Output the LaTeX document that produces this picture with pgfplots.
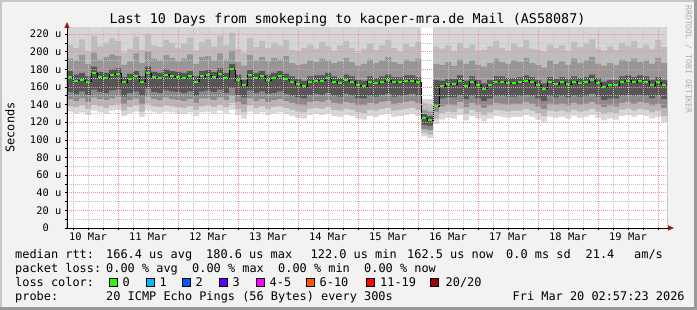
\documentclass[border=0pt]{standalone}
\usepackage{pgfplots}
\pgfplotsset{compat=1.18}
\usepackage{pgfplotstable}
\usepackage{fontspec}
\setmainfont{DejaVu Sans Mono}
\usetikzlibrary{arrows.meta}
\definecolor{bgc}{HTML}{F2F2F2}
\definecolor{s1}{HTML}{D5D5D5}
\definecolor{s2}{HTML}{BDBDBD}
\definecolor{s3}{HTML}{969696}
\definecolor{s4}{HTML}{565656}
\definecolor{s5}{HTML}{8A8A8A}
\definecolor{s6}{HTML}{B6B6B6}
\definecolor{s7}{HTML}{D8D8D8}
\definecolor{arrowred}{HTML}{9A1A1A}
\definecolor{c0}{HTML}{26FF00}
\definecolor{c1}{HTML}{00B8FF}
\definecolor{c2}{HTML}{0059FF}
\definecolor{c3}{HTML}{5E00FF}
\definecolor{c45}{HTML}{FF00FF}
\definecolor{c610}{HTML}{FF5500}
\definecolor{c1119}{HTML}{FF0000}
\definecolor{c20}{HTML}{A10000}
\definecolor{mgrid}{HTML}{F09090}
\definecolor{ngrid}{HTML}{C4C4C4}

\pgfplotstableread{
med lo l1 l2 l3 u3 u2 u1
171 132 138 146 154 178 192 208
167 130 137 144 152 174 190 204
168 131 139 147 155 176 196 214
166 128 135 143 151 172 186 200
176 133 140 148 157 183 199 218
171 131 138 146 154 177 191 206
170 129 136 145 153 176 194 210
174 133 139 147 156 180 197 215
175 134 141 149 157 181 195 212
165 127 133 141 149 171 185 199
169 130 137 145 153 175 189 203
172 132 139 147 155 178 198 217
166 126 132 141 150 172 187 202
176 133 141 149 158 183 200 220
171 131 138 146 154 177 192 207
170 130 137 145 153 176 190 205
174 132 139 148 156 180 196 213
172 131 138 146 155 178 193 210
171 130 137 145 154 177 189 204
170 129 136 144 153 176 192 209
172 131 138 146 155 178 197 216
166 127 134 142 150 172 186 201
172 131 138 147 155 178 194 211
173 132 139 147 156 179 195 214
171 130 137 145 154 177 190 206
175 133 140 148 157 181 198 218
170 130 137 145 153 176 191 207
180 134 142 150 159 186 201 221
168 128 135 143 151 174 188 203
162 124 131 140 148 168 184 199
173 132 139 147 156 179 196 215
170 129 136 144 153 176 190 205
172 131 138 146 155 178 194 212
168 128 135 143 152 174 189 204
170 130 137 145 153 176 193 210
172 131 138 146 155 178 191 207
169 129 136 144 152 175 195 213
166 127 134 142 150 172 187 202
163 125 132 140 148 169 185 200
161 124 131 139 147 167 186 204
166 128 135 143 151 172 190 208
167 129 136 144 152 173 188 203
167 128 135 143 151 173 192 211
170 130 137 145 153 176 190 206
166 127 134 142 150 172 187 201
164 126 133 141 149 170 189 207
168 128 135 143 152 174 193 212
166 127 134 142 150 172 188 204
162 124 131 139 147 168 184 199
161 123 130 139 147 167 186 203
166 127 134 142 150 172 191 209
164 126 133 141 149 170 187 202
166 128 135 143 151 172 190 207
168 129 136 144 152 174 194 213
165 126 133 141 149 171 188 204
165 127 134 142 150 171 186 200
167 128 135 143 151 173 191 209
167 129 136 144 152 173 189 205
165 127 134 142 150 171 192 211
125 104 108 112 117 129 134 142
122 102 106 111 116 127 132 139
138 118 124 132 140 168 186 206
161 123 130 138 147 167 185 203
163 125 132 140 148 169 188 207
163 124 131 139 148 169 184 200
167 128 135 143 151 173 191 210
161 122 129 137 146 167 186 204
166 127 134 142 150 172 190 208
162 124 131 139 147 168 185 201
158 121 128 136 144 164 183 202
162 124 131 139 147 168 187 206
166 127 134 142 150 172 192 212
166 126 133 141 150 172 188 204
164 125 132 140 149 170 186 201
164 126 133 141 149 170 190 209
165 126 133 141 150 171 188 205
167 128 135 143 151 173 193 213
165 126 133 141 150 171 187 203
162 123 130 138 147 168 185 202
158 120 127 135 144 164 182 200
165 126 133 141 150 171 190 208
163 125 132 140 148 169 186 204
165 126 133 141 150 171 189 207
163 124 131 139 148 169 185 201
166 127 134 142 150 172 192 211
164 125 132 140 149 170 187 205
165 126 133 141 150 171 190 209
168 128 135 143 152 174 194 214
164 125 132 140 149 170 186 203
160 122 129 137 145 166 184 201
162 124 131 139 147 168 187 206
162 123 130 138 147 168 185 202
166 127 134 142 150 172 191 210
167 128 135 143 151 173 189 206
165 126 133 141 150 171 192 212
167 128 135 143 151 173 188 204
166 127 134 142 150 172 190 208
162 124 131 139 147 168 186 203
165 126 133 141 150 171 193 213
162.5 120 127 136 146 168 187 205
162.5 120 127 136 146 168 187 205
}\smoke

\pgfplotstableread{
x hi
0 230
5.9 146
6.1 230
10 230
}\tops

\tikzset{lg/.style={anchor=base west, inner sep=0pt, font=\fontsize{11.9}{14}\selectfont}}

\begin{document}
\begin{tikzpicture}
\useasboundingbox (0,0) rectangle (697pt,310pt);
\fill[bgc] (0,0) rectangle (697pt,310pt);
\fill[black!22] (0,308pt) rectangle (697pt,310pt);
\fill[black!22] (0,0) rectangle (2pt,310pt);
\fill[black!40] (694pt,0) rectangle (697pt,310pt);
\fill[black!40] (0,0) rectangle (697pt,3pt);

\begin{axis}[
  at={(67pt,82pt)}, anchor=south west, scale only axis,
  width=600pt, height=200pt,
  xmin=0, xmax=10, ymin=0, ymax=226.8,
  axis on top,
  axis background/.style={fill=white},
  axis x line*=bottom, axis y line*=left,
  x axis line style={line width=0.8pt, -{Triangle[length=6pt,width=5pt,color=arrowred]}, shorten >=-7pt},
  y axis line style={line width=0.8pt, -{Triangle[length=6pt,width=5pt,color=arrowred]}, shorten >=-6pt},
  /pgf/number format/assume math mode=true,
  xtick={0.85,1.85,2.85,3.85,4.85,5.85,6.85,7.85,8.85,9.85},
  xticklabels={},
  minor xtick={0.1,0.35,0.6,1.1,1.35,1.6,2.1,2.35,2.6,3.1,3.35,3.6,4.1,4.35,4.6,5.1,5.35,5.6,6.1,6.35,6.6,7.1,7.35,7.6,8.1,8.35,8.6,9.1,9.35,9.6},
  extra x ticks={0.35,1.35,2.35,3.35,4.35,5.35,6.35,7.35,8.35,9.35},
  extra x tick labels={10 Mar,11 Mar,12 Mar,13 Mar,14 Mar,15 Mar,16 Mar,17 Mar,18 Mar,19 Mar},
  extra x tick style={grid=none, major tick length=0pt},
  ytick={0,20,40,60,80,100,120,140,160,180,200,220},
  yticklabels={0\phantom{uu},20 u,40 u,60 u,80 u,100 u,120 u,140 u,160 u,180 u,200 u,220 u},
  minor ytick={10,30,50,70,90,110,130,150,170,190,210},
  grid=both,
  major grid style={draw=mgrid, line width=0.6pt, dash pattern=on 1pt off 1pt},
  minor grid style={draw=ngrid, line width=0.6pt, dash pattern=on 1pt off 1pt},
  tick align=outside,
  major tick length=2.5pt, minor tick length=2.5pt,
  tick style={black, line width=0.5pt},
  xticklabel style={font=\fontsize{10.4}{12}\selectfont, anchor=north, inner sep=0pt, yshift=-5pt},
  yticklabel style={font=\fontsize{10.4}{12}\selectfont, anchor=east, inner sep=0pt, xshift=-3pt},
]
\addplot[const plot, draw=none, fill=s1] table[x=x, y=hi] {\tops} \closedcycle;
\addplot[const plot, draw=none, fill=s2] table[x expr=\coordindex/10, y=u1] {\smoke} \closedcycle;
\addplot[const plot, draw=none, fill=s3] table[x expr=\coordindex/10, y=u2] {\smoke} \closedcycle;
\addplot[const plot, draw=none, fill=s4] table[x expr=\coordindex/10, y=u3] {\smoke} \closedcycle;
\addplot[const plot, draw=none, fill=s5] table[x expr=\coordindex/10, y=l3] {\smoke} \closedcycle;
\addplot[const plot, draw=none, fill=s6] table[x expr=\coordindex/10, y=l2] {\smoke} \closedcycle;
\addplot[const plot, draw=none, fill=s7] table[x expr=\coordindex/10, y=l1] {\smoke} \closedcycle;
\addplot[const plot, draw=none, fill=white] table[x expr=\coordindex/10, y=lo] {\smoke} \closedcycle;
\addplot[const plot, black, line width=0.5pt] table[x expr=\coordindex/10, y=med] {\smoke};
\addplot[only marks, mark=-, mark size=2pt, mark options={line width=2pt, draw=c0}, skip coords between index={100}{101}] table[x expr=\coordindex/10+0.05, y=med] {\smoke};
\end{axis}

\node[anchor=base, inner sep=0pt, font=\fontsize{13.4}{15}\selectfont] at (347.5pt,286.5pt) {Last 10 Days from smokeping to kacper-mra.de Mail (AS58087)};
\node[rotate=90, inner sep=0pt, font=\fontsize{11.9}{14}\selectfont] at (10pt,182.5pt) {Seconds};
\node[rotate=-90, anchor=west, inner sep=0pt, text=black!32, font=\fontsize{8.2}{10}\selectfont] at (688.5pt,305pt) {RRDTOOL / TOBI OETIKER};

\node[lg] at (15pt,51.7pt) {median rtt:};
\node[lg] at (106pt,51.7pt) {166.4 us avg};
\node[lg] at (206pt,51.7pt) {180.6 us max};
\node[lg] at (310.5pt,51.7pt) {122.0 us min};
\node[lg] at (407pt,51.7pt) {162.5 us now};
\node[lg] at (506pt,51.7pt) {0.0 ms sd};
\node[lg] at (585.5pt,51.7pt) {21.4};
\node[lg] at (634pt,51.7pt) {am/s};

\node[lg] at (15pt,37.7pt) {packet loss:};
\node[lg] at (106pt,37.7pt) {0.00 \% avg};
\node[lg] at (192pt,37.7pt) {0.00 \% max};
\node[lg] at (278pt,37.7pt) {0.00 \% min};
\node[lg] at (364pt,37.7pt) {0.00 \% now};

\node[lg] at (15pt,23.7pt) {loss color:};
\draw[fill=c0, line width=0.6pt] (109pt,23.7pt) rectangle ++(8pt,8pt);
\node[lg] at (122.5pt,23.7pt) {0};
\draw[fill=c1, line width=0.6pt] (146pt,23.7pt) rectangle ++(8pt,8pt);
\node[lg] at (159.5pt,23.7pt) {1};
\draw[fill=c2, line width=0.6pt] (182.7pt,23.7pt) rectangle ++(8pt,8pt);
\node[lg] at (195.5pt,23.7pt) {2};
\draw[fill=c3, line width=0.6pt] (219.3pt,23.7pt) rectangle ++(8pt,8pt);
\node[lg] at (232.5pt,23.7pt) {3};
\draw[fill=c45, line width=0.6pt] (256pt,23.7pt) rectangle ++(8pt,8pt);
\node[lg] at (269.5pt,23.7pt) {4-5};
\draw[fill=c610, line width=0.6pt] (306.7pt,23.7pt) rectangle ++(8pt,8pt);
\node[lg] at (319.5pt,23.7pt) {6-10};
\draw[fill=c1119, line width=0.6pt] (366pt,23.7pt) rectangle ++(8pt,8pt);
\node[lg] at (380pt,23.7pt) {11-19};
\draw[fill=c20, line width=0.6pt] (430.7pt,23.7pt) rectangle ++(8pt,8pt);
\node[lg] at (445.5pt,23.7pt) {20/20};

\node[lg] at (15pt,9.7pt) {probe:};
\node[lg] at (106pt,9.7pt) {20 ICMP Echo Pings (56 Bytes) every 300s};
\node[lg] at (512.5pt,9.7pt) {Fri Mar 20 02:57:23 2026};
\end{tikzpicture}
\end{document}
